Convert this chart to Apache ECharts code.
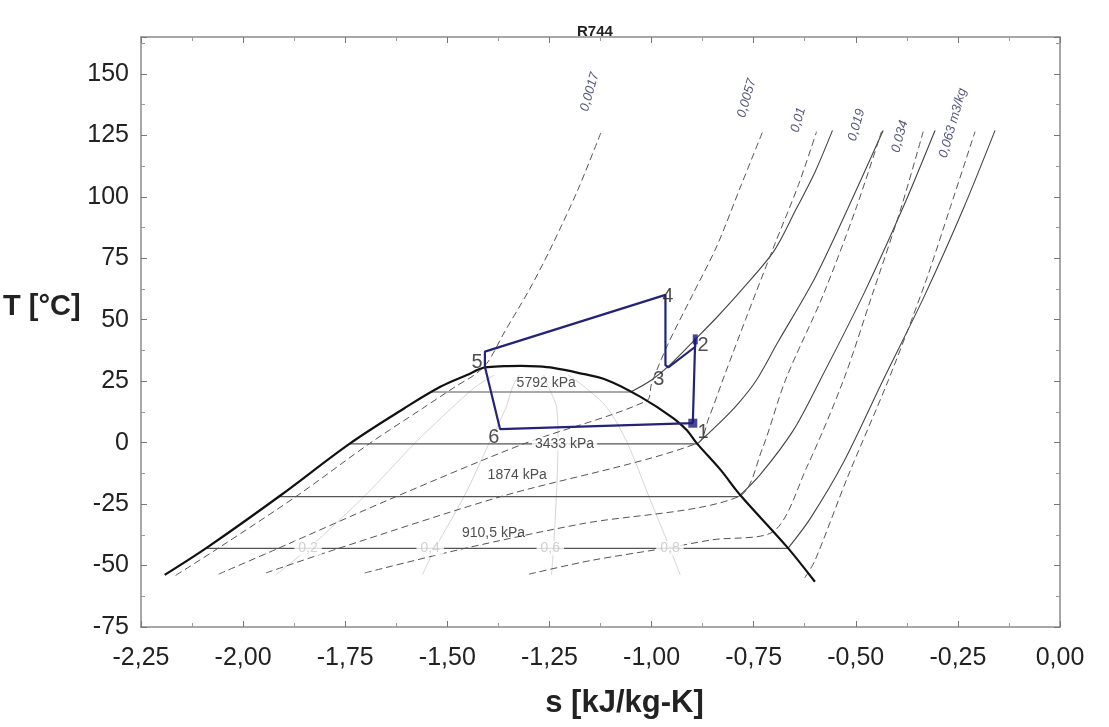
<!DOCTYPE html>
<html><head><meta charset="utf-8">
<script src="https://cdn.jsdelivr.net/npm/echarts@6/dist/echarts.min.js"></script>
<style>html,body{margin:0;padding:0;background:#fff}#c{width:1109px;height:727px}</style>
</head><body><div id="c"></div>
<script>
// ---- data (s [kJ/kg-K], T [°C]) ----
const chartTitle = 'R744';
const xName = 's [kJ/kg-K]';
const yName = 'T [°C]';

const domeS = [-2.192,-2.085,-1.907,-1.738,-1.605,-1.516,-1.452,-1.408,-1.36,-1.32,-1.28,-1.241,-1.18,-1.11,-1.028,-0.947,-0.914,-0.889,-0.831,-0.783,-0.669,-0.600];
const domeT = [-53.8,-42.3,-21.3,-0.3,14.0,22.8,27.5,30.6,31.1,31.2,31.0,30.4,28.4,25.5,18.7,10.0,5.1,-0.3,-11.1,-21.3,-42.3,-56.6];

// isobars inside the dome (horizontal) and in superheated region
const p5792Dome = [[-1.538,20.6],[-1.051,20.6]];
const p3433Dome = [[-1.740,-0.5],[-0.888,-0.5]];
const p1874Dome = [[-1.913,-22.0],[-0.787,-22.0]];
const p910Dome  = [[-2.092,-43.0],[-0.666,-43.0]];
const p5792Vap = [[-1.051,20.6],[-1.0,25.5],[-0.959,31],[-0.893,42],[-0.84,51],[-0.78,62],[-0.70,78],[-0.646,95],[-0.60,110],[-0.557,127]];
const p3433Vap = [[-0.888,-0.5],[-0.84,7],[-0.79,15.5],[-0.743,25.5],[-0.692,40.5],[-0.60,67],[-0.52,95],[-0.433,127]];
const p1874Vap = [[-0.787,-22],[-0.734,-13],[-0.653,5],[-0.587,25.5],[-0.482,60],[-0.386,95],[-0.306,127]];
const p910Vap  = [[-0.666,-43],[-0.612,-31],[-0.531,-8.3],[-0.433,25.5],[-0.331,60],[-0.237,95],[-0.159,127]];

// isochores (dashed)
const v0017 = [[-2.165,-54],[-2.055,-42.3],[-1.865,-21.3],[-1.69,-0.3],[-1.56,14],[-1.48,22.8],[-1.43,28],[-1.40,33],[-1.36,45],[-1.30,62],[-1.25,78],[-1.18,103],[-1.123,126.5]];
const v0057 = [[-2.06,-53.5],[-1.914,-43],[-1.626,-22],[-1.313,-0.5],[-1.012,17],[-1.0,24],[-0.96,40],[-0.90,60],[-0.84,80],[-0.78,105],[-0.728,126.5]];
const v001  = [[-1.944,-53],[-1.766,-43],[-1.37,-22],[-0.889,-0.3],[-0.86,10],[-0.82,28],[-0.77,50],[-0.70,80],[-0.64,105],[-0.596,126.5]];
const v0019 = [[-1.702,-53],[-1.457,-43],[-1.17,-33],[-0.787,-22],[-0.73,-3],[-0.672,25.5],[-0.58,60],[-0.50,95],[-0.437,126.5]];
const v0034 = [[-1.30,-53.5],[-1.15,-48],[-0.95,-42.5],[-0.85,-39.5],[-0.705,-36.5],[-0.62,-10],[-0.53,25.5],[-0.46,60],[-0.39,95],[-0.335,126.5]];
const v0063 = [[-0.625,-55],[-0.60,-48],[-0.52,-14],[-0.42,25.5],[-0.33,65],[-0.27,95],[-0.208,126.5]];
const isochoreLabels = ['0,0017','0,0057','0,01','0,019','0,034','0,063 m3/kg'];
const isochoreLabelPos = [[-1.151,142.7],[-0.767,140.1],[-0.641,131.3],[-0.498,129.2],[-0.392,124.5],[-0.262,130.0]];

// quality lines
const q02 = [[-1.92,-53.8],[-1.84,-43],[-1.70,-21.3],[-1.58,-0.3],[-1.49,14],[-1.43,22.8],[-1.385,27.5]];
const q04 = [[-1.561,-53.8],[-1.530,-43],[-1.457,-21.3],[-1.398,-0.3],[-1.357,14],[-1.340,22.8],[-1.324,27.5]];
const q06 = [[-1.245,-53.8],[-1.240,-43],[-1.233,-21.3],[-1.229,-0.3],[-1.232,14],[-1.253,22.8],[-1.264,27.5]];
const q08 = [[-0.930,-53.8],[-0.955,-43],[-1.008,-21.3],[-1.059,-0.3],[-1.108,14],[-1.165,22.8],[-1.204,27.5]];
const qualityLabels = ['0,2','0,4','0,6','0,8'];
const qualityLabelPos = [[-1.841,-43],[-1.542,-43],[-1.248,-43],[-0.955,-43]];

// pressure labels
const pressureLabels = ['5792 kPa','3433 kPa','1874 kPa','910,5 kPa'];
const pressureLabelPos = [[-1.258,24.3],[-1.213,-0.5],[-1.329,-13.2],[-1.387,-36.9]];

// cycle
const cycleS = [-0.899,-0.893,-0.893,-0.959,-0.966,-0.966,-1.408,-1.408,-1.371,-0.899];
const cycleT = [7.9,42.4,39.0,30.6,31.5,60.1,37.0,30.9,5.5,7.9];
const cycleNames = ['1','2','3','4','5','6'];
const cycleLabelPos = [[-0.874,4.3],[-0.874,39.7],[-0.982,25.5],[-0.960,59.3],[-1.427,32.4],[-1.386,1.9]];
const markerPts = [[-0.899,7.9],[-0.893,42.0]];

// ---- chart ----
const FONT = 'Liberation Sans, Arial, Helvetica, sans-serif';
const series = [];
function line(data, color, width, type, smooth, z) {
  series.push({type:'line', data:data, showSymbol:false, symbol:'none', smooth:smooth,
    lineStyle:{color:color, width:width, type:type}, z:z||2, silent:true, animation:false});
}
[q02,q04,q06,q08].forEach(d=>line(d,'#d6d6d6',1,'solid',0.3,1));
[p5792Dome,p3433Dome,p1874Dome,p910Dome].forEach(d=>line(d,'#555',1.2,'solid',false,2));
[p5792Vap,p3433Vap,p1874Vap,p910Vap].forEach(d=>line(d,'#444',1.1,'solid',0.3,2));
[v0017,v0057,v001,v0019,v0034,v0063].forEach(d=>line(d,'#555',1,[7,4],0.3,2));
line(domeS.map((s,i)=>[s,domeT[i]]),'#111',2.2,'solid',0.35,4);
line(cycleS.map((s,i)=>[s,cycleT[i]]),'#23237a',2.2,'solid',false,5);

series.push({type:'scatter', data:[{value:markerPts[0],symbolSize:9},{value:markerPts[1],symbolSize:[5,10]}],
  symbol:'rect', itemStyle:{color:'#1a1a78'}, z:6, silent:true, animation:false});

function labels(names, pos, style, z) {
  series.push({type:'scatter', symbolSize:0, z:z||8, silent:true, animation:false,
    data: names.map((n,i)=>({name:n, value:pos[i]})),
    label: Object.assign({show:true, position:'inside', formatter:'{b}', fontFamily:FONT}, style)});
}
labels(qualityLabels, qualityLabelPos, {fontSize:14, color:'#c4c4c4', backgroundColor:'#fff', padding:[0,4]}, 7);
labels(pressureLabels.slice(1,2), pressureLabelPos.slice(1,2), {fontSize:14, color:'#222', backgroundColor:'#fff', padding:[0,3]}, 7);
labels([pressureLabels[0],pressureLabels[2],pressureLabels[3]], [pressureLabelPos[0],pressureLabelPos[2],pressureLabelPos[3]], {fontSize:14, color:'#222'}, 7);
labels(isochoreLabels, isochoreLabelPos, {fontSize:13, color:'#2b2b5c', fontStyle:'italic', rotate:74}, 7);
labels(cycleNames, cycleLabelPos, {fontSize:20, color:'#222'}, 9);

const axisCommon = {
  type:'value', axisLine:{show:true, onZero:false, lineStyle:{color:'#8a8a8a', width:1.5}},
  axisTick:{show:true, inside:true, length:6, lineStyle:{color:'#777'}},
  minorTick:{show:true, splitNumber:2, length:4, lineStyle:{color:'#999'}},
  splitLine:{show:false}
};
const option = {
  backgroundColor:'#fff',
  animation:false,
  title:{text:chartTitle, left:572, top:19, textStyle:{fontFamily:FONT, fontSize:15, fontWeight:'bold', color:'#222'}},
  graphic:[{type:'text', left:3, top:292, style:{text:yName, font:'bold 29px ' + FONT, fill:'#222'}}],
  grid:{left:141, right:49, top:37, bottom:100, containLabel:false},
  xAxis:[
    Object.assign({}, axisCommon, {min:-2.25, max:0, interval:0.25, position:'bottom',
      axisLabel:{fontFamily:FONT, fontSize:25, color:'#222', margin:19, formatter:v=>v.toFixed(2).replace('.',',')},
      name:xName, nameLocation:'middle', nameGap:61, nameTextStyle:{fontFamily:FONT, fontSize:31, fontWeight:'bold', color:'#222', padding:[0,0,0,48]}}),
    Object.assign({}, axisCommon, {min:-2.25, max:0, interval:0.25, position:'top', axisLabel:{show:false}})
  ],
  yAxis:[
    Object.assign({}, axisCommon, {min:-75, max:165, interval:25, position:'left',
      axisLabel:{fontFamily:FONT, fontSize:25, color:'#222', margin:12, showMaxLabel:false, formatter:v=>v>150?'':String(v)}}),
    Object.assign({}, axisCommon, {min:-75, max:165, interval:25, position:'right', axisLabel:{show:false}})
  ],
  series: series
};
const chart = echarts.init(document.getElementById('c'), null, {renderer:'canvas'});
chart.setOption(option);
</script></body></html>
